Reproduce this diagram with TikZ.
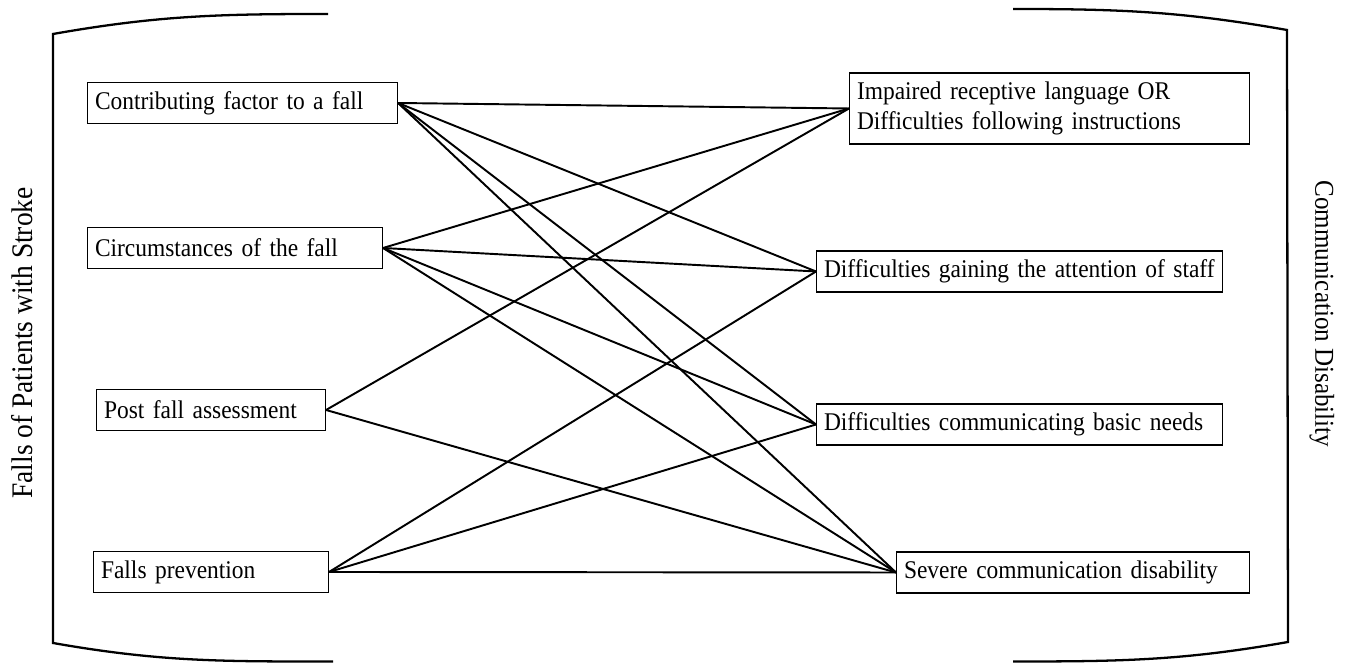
\documentclass[tikz,border=0pt]{standalone}
\usepackage{fontspec}
\setmainfont[FakeStretch=0.92]{Liberation Serif}
\usepackage{tikz}
\usetikzlibrary{positioning}
\tikzset{
  factbox/.style={
    draw,line width=0.6pt,anchor=west,align=left,inner xsep=0.15cm,
    minimum height=0.82cm,text width=#1,font=\fontsize{14.5}{17}\selectfont
  },
  link/.style={draw,line width=1.1pt},
  bracket/.style={draw,line width=1.3pt}
}

\begin{document}
\begin{tikzpicture}
  \useasboundingbox (0,0) rectangle (26.92,13.26);

  % Falls side
  \draw[bracket] (6.56,12.98) to[out=180,in=10] (1.06,12.58) -- (1.06,0.4)
    to[out=-10,in=180] (6.66,0.03);
  \node[font=\fontsize{17}{20}\selectfont,rotate=90] at (0.44,6.4) (falls)
    {Falls of Patients with Stroke};

  \node[factbox=5.9cm] at (1.74,11.2) (contrib){Contributing factor to a fall};
  \node[factbox=5.6cm] at (1.74,8.3) (circum){Circumstances of the fall};
  \node[factbox=4.28cm] at (1.92,5.06) (postfall){Post fall assessment};
  \node[factbox=4.4cm] at (1.86,1.82) (prevent){Falls prevention};

  % Communication side
  \draw[bracket] (20.26,13.08) to[out=0,in=170] (25.74,12.66) -- (25.76,0.42)
    to[out=190,in=0] (20.26,0.03);
  \node[font=\fontsize{15.5}{18}\selectfont,rotate=-90] at (26.44,6.98) (comm)
    {Communication Disability};

  \node[factbox=7.7cm,minimum height=1.42cm] at (16.98,11.09) (receptive)
    {Impaired receptive language OR\\Difficulties following instructions};
  \node[factbox=7.82cm] at (16.32,7.83) (attention){Difficulties gaining the attention of staff};
  \node[factbox=7.82cm] at (16.32,4.77) (basicneeds){Difficulties communicating basic needs};
  \node[factbox=6.76cm] at (17.92,1.81) (severe){Severe communication disability};

  % links
  \foreach \a/\b in {contrib/receptive,contrib/attention,contrib/basicneeds,contrib/severe,
    circum/receptive,circum/attention,circum/basicneeds,circum/severe,
    postfall/receptive,postfall/severe,
    prevent/attention,prevent/basicneeds,prevent/severe}
  {
    \draw[link] (\a.east) -- (\b.west);
  }
\end{tikzpicture}
\end{document}
